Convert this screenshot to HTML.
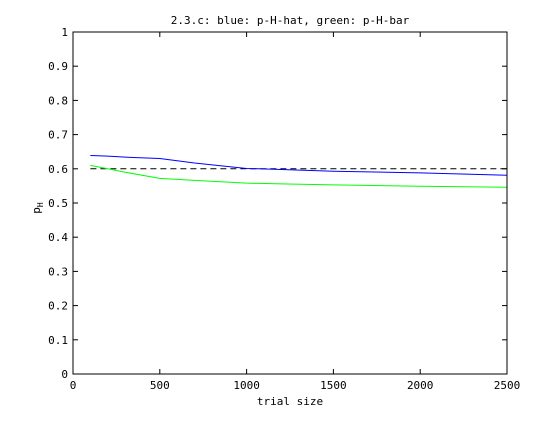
<!DOCTYPE html>
<html><head><style>
body{margin:0;background:#fff;}
svg text{font-family:"DejaVu Sans Mono","Liberation Mono",monospace;font-size:11px;fill:#000;}
</style></head><body>
<svg width="560" height="420" xmlns="http://www.w3.org/2000/svg">
<rect width="560" height="420" fill="#fff"/>
<g id="grid"></g>
<g id="marks"></g>
<rect x="73" y="32" width="434" height="342" fill="none" stroke="#000" stroke-width="1"/>
<text x="290" y="24" text-anchor="middle">2.3.c: blue: p-H-hat, green: p-H-bar</text>
<text x="290" y="405" text-anchor="middle">trial size</text>
<text x="0" y="0" transform="translate(40,208) rotate(-90)" text-anchor="middle">p<tspan font-size="8" dy="3">H</tspan></text>
</svg>
<script>
const xTicks=[0,500,1000,1500,2000,2500];
const yTicks=[0,0.1,0.2,0.3,0.4,0.5,0.6,0.7,0.8,0.9,1];
const yTickLabels=["0","0.1","0.2","0.3","0.4","0.5","0.6","0.7","0.8","0.9","1"];
const trialSizes=[100,200,300,500,700,1000,1200,1500,2000,2500];
const pHat=[0.639,0.637,0.634,0.630,0.617,0.601,0.598,0.593,0.588,0.581];
const pBar=[0.610,0.600,0.590,0.572,0.566,0.558,0.556,0.553,0.549,0.546];
const trueP=0.6;
const X=v=>73+v/2500*434, Y=v=>374-v*342;
const NS="http://www.w3.org/2000/svg";
const svg=document.querySelector('svg'), g=document.getElementById('grid'), m=document.getElementById('marks');
function mk(t,a,p){const e=document.createElementNS(NS,t);for(const k in a)e.setAttribute(k,a[k]);p.appendChild(e);return e;}
xTicks.forEach(v=>{
 const l=mk('line',{x1:X(v),x2:X(v),y1:374,y2:369,stroke:'#000'},g);
 
 
 const l2=mk('line',{x1:X(v),x2:X(v),y1:32,y2:37,stroke:'#000'},g);
 
 
 const t=mk('text',{x:X(v),y:389,'text-anchor':'middle'},svg);t.textContent=v;
 
 
});
yTicks.forEach((v,i)=>{
 const l=mk('line',{x1:73,x2:78,y1:Y(v),y2:Y(v),stroke:'#000'},g);
 
 
 const l2=mk('line',{x1:502,x2:507,y1:Y(v),y2:Y(v),stroke:'#000'},g);
 
 
 const t=mk('text',{x:68,y:Y(v)+4,'text-anchor':'end'},svg);t.textContent=yTickLabels[i];
 
 
});
const ref=mk('line',{x1:X(trialSizes[0]),x2:X(2500),y1:Y(trueP),y2:Y(trueP),stroke:'#000','stroke-dasharray':'6,4'},m);


function line(vals,c,name){
 const p=mk('polyline',{points:trialSizes.map((x,i)=>X(x)+','+Y(vals[i])).join(' '),fill:'none',stroke:c,'stroke-width':1},m);
 
 
}
line(pHat,'#0000ff','p-h-hat-line');
line(pBar,'#00ff00','p-h-bar-line');
</script>
</body></html>
